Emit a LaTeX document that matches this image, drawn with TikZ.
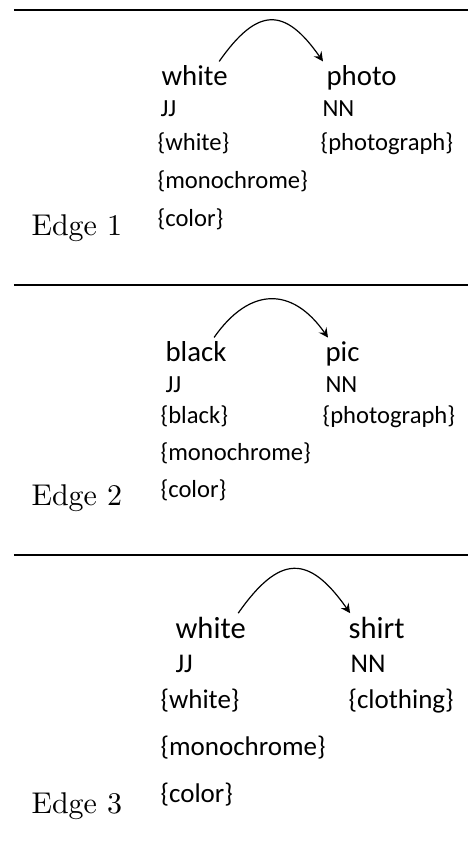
\documentclass[tikz,border=0pt]{standalone}
\usepackage{fontspec}
\newfontfamily\calibri{Carlito}
\begin{document}
\begin{tikzpicture}[x=0.3333pt, y=-0.3333pt, >=stealth]
				\tikzset{
					rule/.style={line width=0.5pt},
					word/.style={anchor=base west, inner sep=0pt, font=\calibri\fontsize{#1}{12}\selectfont},
					word/.default=9.6,
					tag/.style={anchor=base west, inner sep=0pt, font=\calibri\fontsize{#1}{11}\selectfont},
					tag/.default=8.2,
					edgelbl/.style={anchor=base west, inner sep=0pt},
					dep/.style={->, line width=0.4pt, out=55, in=125, looseness=1.65}
				}
				\useasboundingbox (0,0) rectangle (468,860);
				
				% Edge 1: white -> photo
				\draw[rule] (14,10) -- (468,10);
				\node[word] (w1) at (161,85) {white};
				\node[word] (p1) at (326,85) {photo};
				\node[tag] (j1) at (160,116) {JJ};
				\node[tag] (n1) at (322,116) {NN};
				\node[tag] (s1) at (157,150) {\{white\}};
				\node[tag] (t1) at (320,150) {\{photograph\}};
				\node[tag] (m1) at (157,188) {\{monochrome\}};
				\node[tag] (c1) at (157,226) {\{color\}};
				\node[edgelbl] (e1) at (31,235) {Edge 1};
				\draw[dep] ([xshift=-3pt,yshift=1pt]w1.north east) to ([xshift=-1pt,yshift=1pt]p1.north west);
				
				% Edge 2: black -> pic
				\draw[rule] (14,285) -- (468,285);
				\node[word] (w2) at (165,361) {black};
				\node[word] (p2) at (325,361) {pic};
				\node[tag] (j2) at (165,392) {JJ};
				\node[tag] (n2) at (325,392) {NN};
				\node[tag] (s2) at (160,423) {\{black\}};
				\node[tag] (t2) at (322,423) {\{photograph\}};
				\node[tag] (m2) at (160,460) {\{monochrome\}};
				\node[tag] (c2) at (160,497) {\{color\}};
				\node[edgelbl] (e2) at (31,505) {Edge 2};
				\draw[dep, looseness=1.4] ([xshift=-4.3pt,yshift=1pt]w2.north east) to ([xshift=1pt,yshift=1pt]p2.north west);
				
				% Edge 3: white -> shirt
				\draw[rule] (14,555) -- (468,555);
				\node[word=10.2] (w3) at (175,638) {white};
				\node[word=10.2] (p3) at (348,638) {shirt};
				\node[tag=9] (j3) at (175,672) {JJ};
				\node[tag=9] (n3) at (350,672) {NN};
				\node[tag=9] (s3) at (160,708) {\{white\}};
				\node[tag=9] (t3) at (348,708) {\{clothing\}};
				\node[tag=9] (m3) at (160,755) {\{monochrome\}};
				\node[tag=9] (c3) at (160,802) {\{color\}};
				\node[edgelbl] (e3) at (31,813) {Edge 3};
				\draw[dep] ([xshift=-2.7pt,yshift=1pt]w3.north east) to ([xshift=0.7pt,yshift=1pt]p3.north west);
			\end{tikzpicture}
\end{document}
